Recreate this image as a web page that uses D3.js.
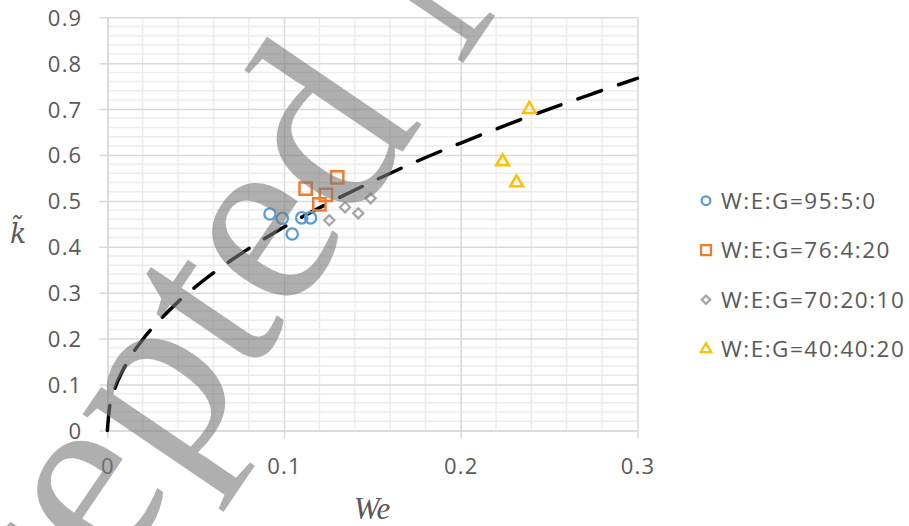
<!DOCTYPE html>
<html>
<head>
<meta charset="utf-8">
<script src="https://cdn.jsdelivr.net/npm/d3@7"></script>
<style>
  body { margin: 0; background: #fff; }
  svg { display: block; }
  .tick-label { font-family: "Open Sans", Lato, sans-serif; font-size: 22px; fill: #595959; letter-spacing: 1.2px; }
  .legend-label { font-family: "Open Sans", Lato, sans-serif; font-size: 22.5px; fill: #595959; letter-spacing: 1.5px; }
</style>
</head>
<body>
<div id="chart"></div>
<script>
// data
var seriesNames = ["W:E:G=95:5:0", "W:E:G=76:4:20", "W:E:G=70:20:10", "W:E:G=40:40:20"];

var we95 = [0.092, 0.099, 0.1046, 0.110, 0.115];
var k95  = [0.4715, 0.462, 0.428, 0.463, 0.463];

var we76 = [0.1122, 0.1301, 0.1237, 0.120];
var k76  = [0.527, 0.551, 0.513, 0.4925];

var we70 = [0.1256, 0.1345, 0.142, 0.149];
var k70  = [0.458, 0.486, 0.473, 0.5056];

var we40 = [0.2388, 0.2237, 0.2316];
var k40  = [0.6996, 0.5854, 0.5397];

// dashed fit curve
var fitWe = [0, 0.001, 0.0025, 0.005, 0.01, 0.02, 0.03, 0.04, 0.06, 0.08, 0.1, 0.125, 0.15, 0.175, 0.2, 0.225, 0.25, 0.275, 0.3];
var fitK  = [0, 0.044, 0.07, 0.099, 0.14, 0.198, 0.242, 0.28, 0.343, 0.396, 0.443, 0.495, 0.542, 0.586, 0.626, 0.664, 0.7, 0.734, 0.767];

var xTicks = [0, 0.1, 0.2, 0.3];
var yTicks = [0, 0.1, 0.2, 0.3, 0.4, 0.5, 0.6, 0.7, 0.8, 0.9];

var width = 909, height = 526;
var plot = {left: 107.4, right: 637.4, top: 17.3, bottom: 430.4};

var svg = d3.select("#chart").append("svg")
    .attr("width", width)
    .attr("height", height);

svg.append("rect").attr("width", width).attr("height", height).attr("fill", "#fff");

var x = d3.scaleLinear().domain([0, 0.3]).range([plot.left, plot.right]);
var y = d3.scaleLinear().domain([0, 0.9]).range([plot.bottom, plot.top]);

// minor grid every 0.02
var minorX = d3.range(0, 0.3001, 0.02).filter(function(v) { return Math.abs(v * 10 - Math.round(v * 10)) > 1e-6; });
var minorY = d3.range(0, 0.9001, 0.02).filter(function(v) { return Math.abs(v * 10 - Math.round(v * 10)) > 1e-6; });

var grid = svg.append("g");
grid.selectAll(".mx").data(minorX).enter().append("line")
    .attr("x1", function(d) { return x(d); }).attr("x2", function(d) { return x(d); })
    .attr("y1", plot.top).attr("y2", plot.bottom)
    .attr("stroke", "#ececec").attr("stroke-width", 1.5);
grid.selectAll(".my").data(minorY).enter().append("line")
    .attr("y1", function(d) { return y(d); }).attr("y2", function(d) { return y(d); })
    .attr("x1", plot.left).attr("x2", plot.right)
    .attr("stroke", "#ececec").attr("stroke-width", 1.5);

// major grid + axes with outward ticks
var yAxis = d3.axisLeft(y).tickValues(yTicks).tickFormat(d3.format("")).tickSizeInner(-(plot.right - plot.left)).tickSizeOuter(0);
var gy = svg.append("g").attr("transform", "translate(" + plot.left + ",0)").call(yAxis);
gy.select(".domain").attr("stroke", "#d9d9d9").attr("stroke-width", 1.5);
gy.selectAll(".tick line").attr("stroke", "#d9d9d9").attr("stroke-width", 1.5).attr("x1", -8);
gy.selectAll(".tick text").attr("class", "tick-label").attr("dy", "0.36em").attr("x", -25);

var xAxis = d3.axisBottom(x).tickValues(xTicks).tickFormat(d3.format("")).tickSizeInner(-(plot.bottom - plot.top)).tickSizeOuter(0);
var gx = svg.append("g").attr("transform", "translate(0," + plot.bottom + ")").call(xAxis);
gx.select(".domain").attr("stroke", "#d9d9d9").attr("stroke-width", 1.5);
gx.selectAll(".tick line").attr("stroke", "#d9d9d9").attr("stroke-width", 1.5).attr("y1", 8);
gx.selectAll(".tick text").attr("class", "tick-label").attr("y", 44).attr("dy", 0);

// axis titles
svg.append("text").attr("x", 10).attr("y", 243)
    .style("font-family", "'DejaVu Serif', serif").style("font-style", "italic")
    .style("font-size", "27px").attr("fill", "#595959").text("k\u0303");
svg.append("text").attr("x", 372).attr("y", 519).attr("text-anchor", "middle")
    .style("font-family", "'Liberation Serif', serif").style("font-style", "italic")
    .style("font-size", "31px").attr("fill", "#595959").text("We");

// fit line
var line = d3.line()
    .x(function(d, i) { return x(fitWe[i]); })
    .y(function(d, i) { return y(fitK[i]); })
    .curve(d3.curveMonotoneX);
svg.append("path").datum(fitWe).attr("d", line)
    .attr("fill", "none").attr("stroke", "#000").attr("stroke-width", 3.5)
    .attr("stroke-linecap", "round").attr("stroke-dasharray", "25,18");

// markers
var colors = ["#5b9bd5", "#ed7d31", "#a5a5a5", "#ffc000"];
var shapes = [d3.symbolCircle, d3.symbolSquare, d3.symbolDiamond2, d3.symbolTriangle2];
var sizes = [100, 150, 65, 115];
var widths = [2.25, 2.5, 2.25, 2.5];
var allWe = [we95, we76, we70, we40];
var allK = [k95, k76, k70, k40];

allWe.forEach(function(wes, s) {
  svg.append("g").selectAll("path").data(wes).enter().append("path")
    .attr("d", d3.symbol().type(shapes[s]).size(sizes[s]))
    .attr("transform", function(d, i) { return "translate(" + x(d) + "," + y(allK[s][i]) + ")"; })
    .attr("fill", "none").attr("stroke", colors[s]).attr("stroke-width", widths[s]);
});

// legend
var legendSizes = [60, 100, 45, 75];
var leg = svg.append("g");
seriesNames.forEach(function(name, i) {
  var ly = 200.7 + i * 49.5;
  leg.append("path")
    .attr("d", d3.symbol().type(shapes[i]).size(legendSizes[i]))
    .attr("transform", "translate(706," + ly + ")")
    .attr("fill", "none").attr("stroke", colors[i]).attr("stroke-width", 2.25);
  leg.append("text").attr("class", "legend-label")
    .attr("x", 721).attr("y", ly).attr("dy", "0.36em").text(name);
});

// watermark
svg.append("text")
    .attr("transform", "translate(-118,918) rotate(-55.8)")
    .style("font-family", "'Liberation Serif', serif")
    .style("font-size", "255px")
    .attr("fill", "#7a7a7a").attr("fill-opacity", 0.6)
    .text("Accepted Manuscript");
</script>
</body>
</html>
